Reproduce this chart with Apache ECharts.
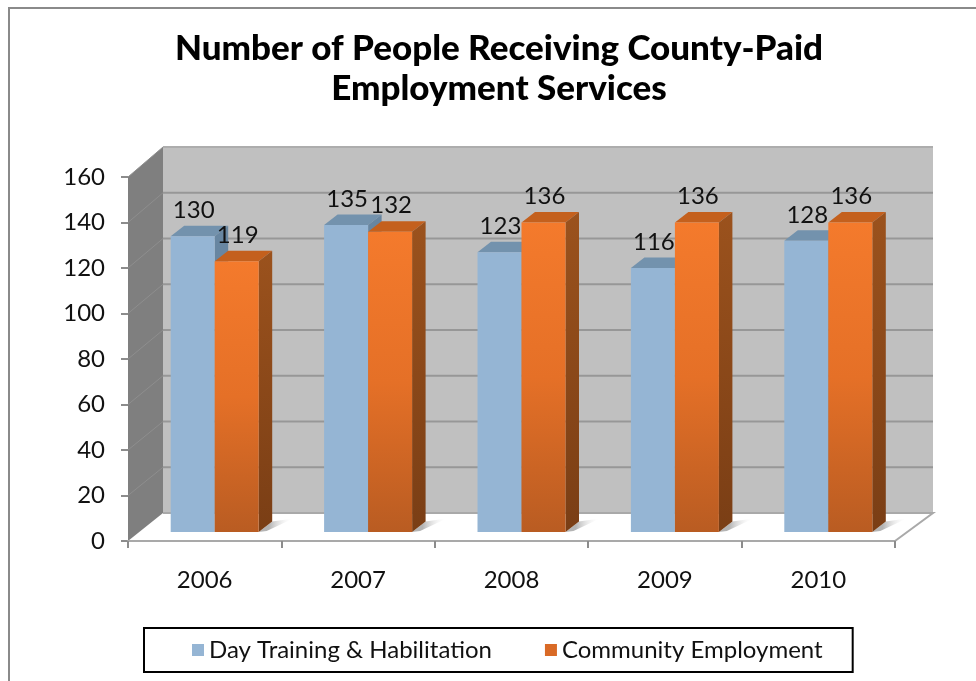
<!DOCTYPE html>
<html>
<head>
<meta charset="utf-8">
<style>
	html, body { margin: 0; padding: 0; background: #fff; }
	#chart { width: 976px; height: 681px; }
</style>
<script src="https://cdn.jsdelivr.net/npm/echarts@6/dist/echarts.min.js"></script>
</head>
<body>
<div id="chart"></div>
<script>
var years = ["2006", "2007", "2008", "2009", "2010"];
var dayTraining = [130, 135, 123, 116, 128];
var communityEmployment = [119, 132, 136, 136, 136];
var yTicks = [0, 20, 40, 60, 80, 100, 120, 140, 160];

var fontName = "Lato";
// fake 3d: how far the back wall and the bars are pushed away from the front axes
var wallDxLeft = 35, wallDxRight = 38, wallDyTop = -30, wallDyBottom = -28;
var barDx = 10, barDy = -9;
var sideDx = 13.5, sideDy = -10.5;
var barWidth = 44;

function poly(points, fill, z2) {
	return { type: "polygon", z2: z2 || 0, shape: { points: points }, style: { fill: fill, stroke: null } };
}
function vGrad(stops) {
	return { type: "linear", x: 0, y: 0, x2: 0, y2: 1, colorStops: stops };
}

function renderWalls(params, api) {
	var cs = params.coordSys;
	var l = cs.x, r = cs.x + cs.width, t = cs.y, b = cs.y + cs.height;
	var bl = l + wallDxLeft, br = r + wallDxRight, bt = t + wallDyTop, bb = b + wallDyBottom;
	var children = [
		poly([[bl, bt], [br, bt], [br, bb], [bl, bb]], "#c0c0c0"),
		poly([[l, t], [bl, bt], [bl, bb], [l, b]], "#7f7f7f"),
		{ type: "polyline", shape: { points: [[bl, bb], [br, bb], [r, b]] },
			style: { fill: null, stroke: "#a9a9a9", lineWidth: 2 } }
	];
	yTicks.forEach(function(tick) {
		var y = api.coord([0, tick])[1];
		var backY = bb + (y - b) * (bt - bb) / (t - b);
		if (tick > 0) {
			children.push({ type: "line", shape: { x1: bl, y1: backY, x2: br, y2: backY },
				style: { stroke: tick == 160 ? "#adadad" : "#979797", lineWidth: 2 } });
			children.push({ type: "line", shape: { x1: l, y1: y, x2: bl, y2: backY },
				style: { stroke: "#8e8e8e", lineWidth: 1 } });
		}
	});
	return { type: "group", children: children };
}

function makeBarRenderer(offset, colors) {
	return function(params, api) {
		var top = api.coord([api.value(0), api.value(1)]);
		var base = api.coord([api.value(0), 0]);
		var x0 = top[0] + offset + barDx, x1 = x0 + barWidth;
		var y0 = top[1] + barDy, y1 = base[1] + barDy;
		var children = [
			poly([[x0, y0], [x0 + sideDx, y0 + sideDy], [x1 + sideDx, y0 + sideDy], [x1, y0]], colors.top),
			poly([[x1, y0], [x1 + sideDx, y0 + sideDy], [x1 + sideDx, y1 + sideDy], [x1, y1]], colors.side),
			poly([[x0, y0], [x1, y0], [x1, y1], [x0, y1]], colors.front),
			{ type: "text", z2: 5, style: {
				x: x0 + barWidth / 2 + 1, y: y0 - 26, text: String(api.value(1)), align: "center", verticalAlign: "middle",
				fill: "#111", font: "24px " + fontName
			} }
		];
		if (colors.shadow) {
			// soft shadow on the floor, right of the bar
			children.unshift(poly([[x1, y1], [x1 + sideDx, y1 + sideDy], [x1 + sideDx + 21, y1 + sideDy - 3], [x1 + 8, y1 - 1]],
				{ type: "linear", x: 0, y: 0, x2: 1, y2: 0, colorStops: [
					{ offset: 0.3, color: "#b4b4b4" }, { offset: 1, color: "rgba(255,255,255,0)" } ] }));
		}
		return { type: "group", children: children };
	};
}

function toRows(values) {
	return values.map(function(v, i) { return [i, v]; });
}

var blueColors = { front: "#95b5d4", top: "#7392ad", side: "#6886a1" };
var orangeColors = {
	front: vGrad([{ offset: 0, color: "#f47a2c" }, { offset: 0.5, color: "#e57027" }, { offset: 1, color: "#b95c22" }]),
	top: "#c4601d",
	side: vGrad([{ offset: 0, color: "#9b521d" }, { offset: 1, color: "#7a3e15" }]),
	shadow: true
};

var myChart = echarts.init(document.getElementById("chart"));
var option = {
	animation: false,
	backgroundColor: "#fff",
	title: {
		text: "Number of People Receiving County-Paid\nEmployment Services",
		left: 494, top: 24, textAlign: "center",
		textStyle: { fontFamily: fontName, fontWeight: 900, fontSize: 35, lineHeight: 40, color: "#000" }
	},
	legend: {
		data: ["Day Training & Habilitation", "Community Employment"],
		left: 144, top: 628,
		padding: [10, 30, 10, 48],
		itemWidth: 12, itemHeight: 12, itemGap: 53,
		icon: "rect",
		borderColor: "#000", borderWidth: 2, borderRadius: 0,
		textStyle: { fontFamily: fontName, fontSize: 24, color: "#111" }
	},
	grid: { left: 128, right: 81, top: 177, bottom: 140 },
	xAxis: {
		type: "category",
		data: years,
		axisLine: { lineStyle: { color: "#a9a9a9", width: 2 } },
		axisTick: { show: true, length: 7, lineStyle: { color: "#8c8c8c", width: 2 } },
		axisLabel: { fontFamily: fontName, fontSize: 24, color: "#111", margin: 27 },
		z: 3
	},
	yAxis: {
		type: "value",
		min: 0, max: 160, interval: 20,
		axisLine: { show: false },
		axisTick: { show: true, length: 7, lineStyle: { color: "#8c8c8c", width: 2 } },
		axisLabel: { fontFamily: fontName, fontSize: 24, color: "#111", margin: 23, padding: [2, 0, 0, 0] },
		splitLine: { show: false }
	},
	series: [
		{ type: "custom", name: "walls", renderItem: renderWalls, data: [[0, 0]], clip: false, silent: true, z: 1 },
		{ type: "custom", name: "Day Training & Habilitation", renderItem: makeBarRenderer(-barWidth, blueColors),
			data: toRows(dayTraining), encode: { x: 0, y: 1 }, clip: false, itemStyle: { color: "#95b5d4" }, z: 2 },
		{ type: "custom", name: "Community Employment", renderItem: makeBarRenderer(0, orangeColors),
			data: toRows(communityEmployment), encode: { x: 0, y: 1 }, clip: false, itemStyle: { color: "#d96a26" }, z: 2 }
	],
	graphic: [
		{ type: "polyline", silent: true, shape: { points: [[9, 681], [9, 8], [976, 8]] },
			style: { fill: null, stroke: "#8a8a8a", lineWidth: 2 } }
	]
};
myChart.setOption(option);
</script>
</body>
</html>
